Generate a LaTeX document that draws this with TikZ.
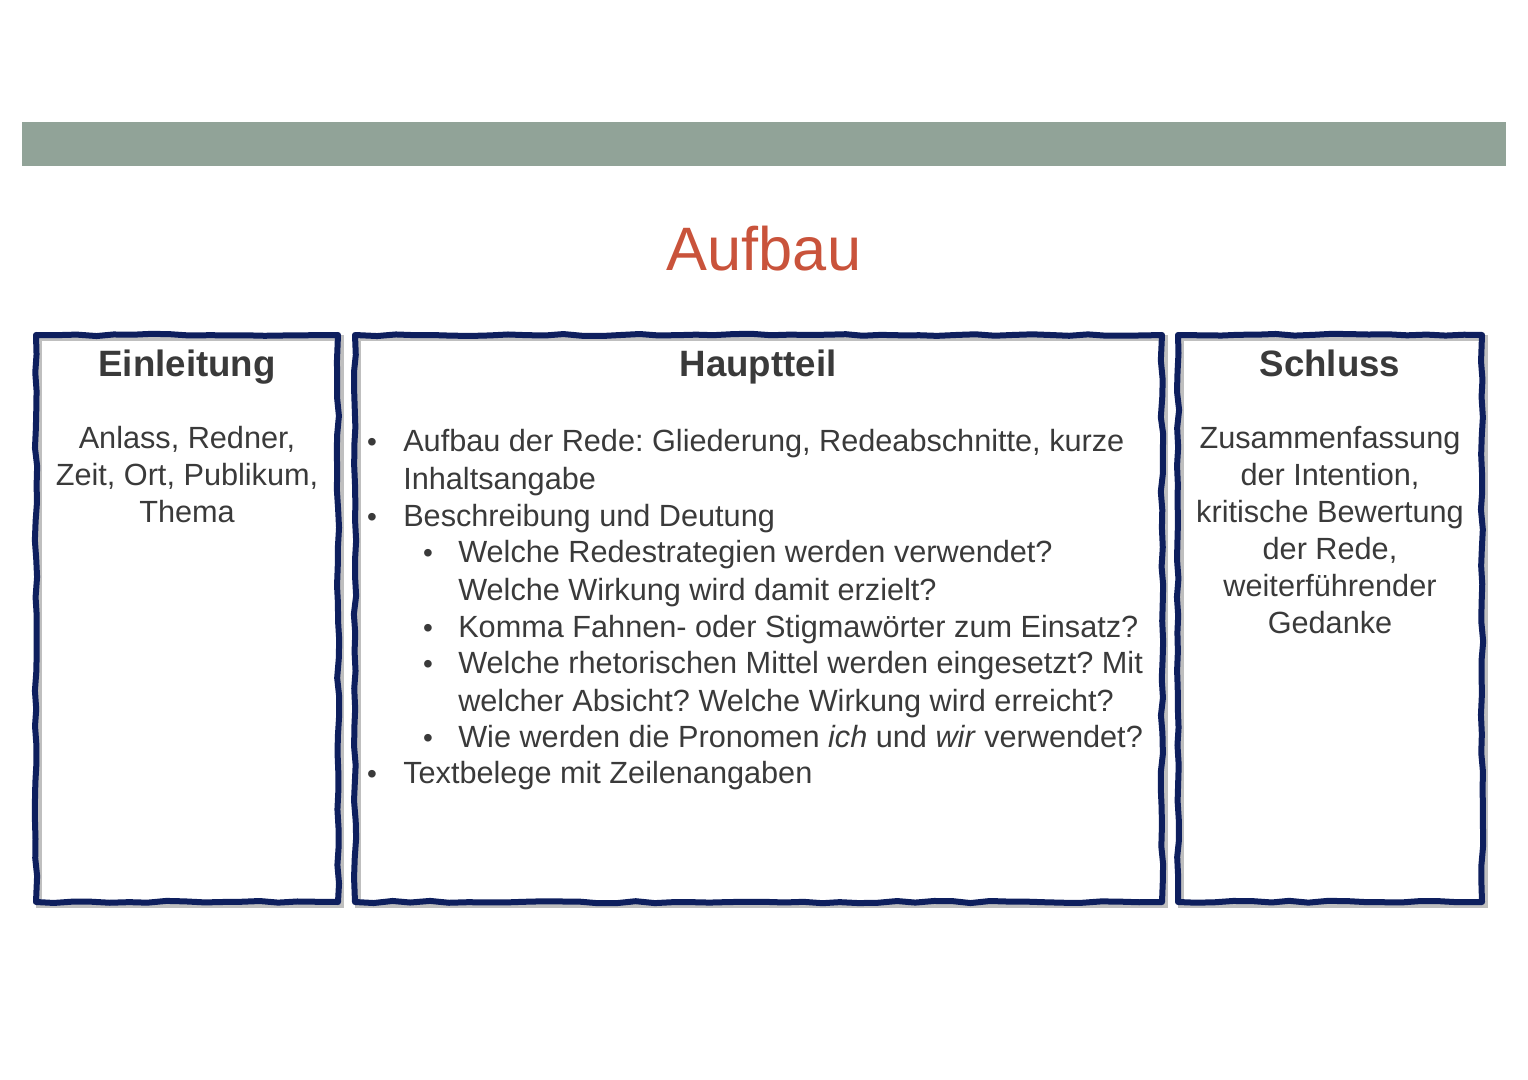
\documentclass[tikz,border=0pt]{standalone}
\usepackage{fontspec}
\setmainfont{Liberation Sans}
\usetikzlibrary{decorations.pathmorphing}
\definecolor{band}{HTML}{91A398}
\definecolor{navy}{HTML}{0E1F5E}
\definecolor{ttl}{HTML}{C9533B}
\definecolor{txt}{HTML}{3A3A3A}
\tikzset{
 frame/.style={draw=navy,line width=4.5pt,line join=round,decorate,decoration={random steps,segment length=14pt,amplitude=0.9pt}},
 shad/.style={draw=black!25,line width=4.5pt},
 head/.style={font=\fontsize{27.5}{30}\selectfont\bfseries,text=txt,anchor=base,inner sep=0pt},
 body/.style={font=\fontsize{23}{27.75}\selectfont\frenchspacing,text=txt,align=center,anchor=north,inner sep=0pt},
 ln/.style={font=\fontsize{23}{27.75}\selectfont\frenchspacing,text=txt,anchor=base west,inner sep=0pt},
 bul/.style={font=\fontsize{21}{27.75}\selectfont,text=txt,anchor=base,inner sep=0pt}
}
\begin{document}
\begin{tikzpicture}[x=0.75pt,y=-0.75pt]
\useasboundingbox (0,0) rectangle (1528,1080);
\fill[band] (22,122) rectangle (1506,166);
\node[font=\fontsize{46}{50}\selectfont,text=ttl] (title) at (764,249) {Aufbau};
\foreach \a/\b in {36/338,355/1162,1178/1482}{
 \draw[shad] (\a+3,338) rectangle (\b+3,905);
 \draw[frame] (\a,335) rectangle (\b,902);
}
\node[head] (h1) at (187,377) {Einleitung};
\node[head] (h2) at (758,377) {Hauptteil};
\node[head] (h3) at (1330,377) {Schluss};
\node[body] (b1) at (187,426) {Anlass, Redner,\\Zeit, Ort, Publikum,\\Thema};
\node[body] (b3) at (1330,426) {Zusammenfassung\\der Intention,\\kritische Bewertung\\der Rede,\\weiterführender\\Gedanke};
% middle
\node[bul] (p1) at (372,451) {•};
\node[ln] (l1) at (403,451) {Aufbau der Rede: Gliederung, Redeabschnitte, kurze};
\node[ln] (l2) at (403,489) {Inhaltsangabe};
\node[bul] (p2) at (372,526) {•};
\node[ln] (l3) at (403,526) {Beschreibung und Deutung};
\node[bul] (p3) at (428,562) {•};
\node[ln] (l4) at (458,562) {Welche Redestrategien werden verwendet?};
\node[ln] (l5) at (458,600) {Welche Wirkung wird damit erzielt?};
\node[bul] (p4) at (428,637) {•};
\node[ln] (l6) at (458,637) {Komma Fahnen- oder Stigmawörter zum Einsatz?};
\node[bul] (p5) at (428,673) {•};
\node[ln] (l7) at (458,673) {Welche rhetorischen Mittel werden eingesetzt? Mit};
\node[ln] (l8) at (458,711) {welcher Absicht? Welche Wirkung wird erreicht?};
\node[bul] (p6) at (428,747) {•};
\node[ln] (l9) at (458,747) {Wie werden die Pronomen \textit{ich} und \textit{wir} verwendet?};
\node[bul] (p7) at (372,783) {•};
\node[ln] (l10) at (403,783) {Textbelege mit Zeilenangaben};
\end{tikzpicture}
\end{document}
